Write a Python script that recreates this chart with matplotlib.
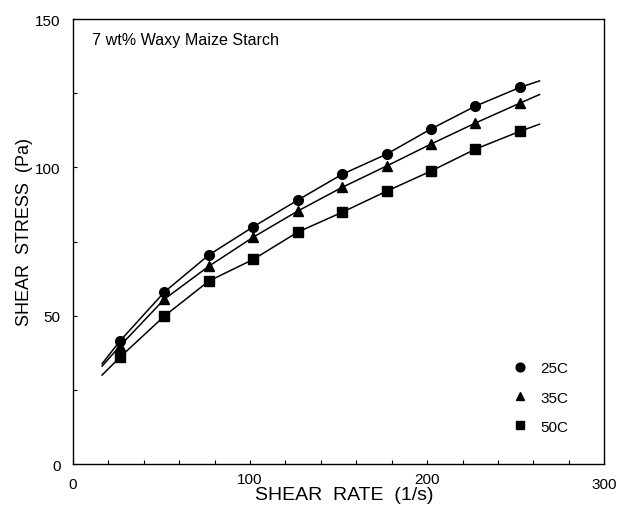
import matplotlib.pyplot as plt
import matplotlib.transforms as mtransforms
import numpy as np

plt.rcParams['font.family'] = ['Liberation Sans', 'DejaVu Sans']

# datos
rate = [26.5, 51.6, 76.7, 101.8, 126.9, 152.0, 177.1, 202.2, 227.3, 252.4]
s25 = [41.5, 58.0, 70.5, 80.0, 89.0, 97.7, 104.5, 113.0, 120.7, 127.0]
s35 = [39.8, 55.6, 66.7, 76.5, 85.3, 93.3, 100.5, 107.9, 115.0, 121.7]
s50 = [36.0, 49.9, 61.7, 69.0, 78.2, 84.9, 92.0, 98.8, 106.2, 112.2]

# extremos de las curvas ajustadas
fit_x = [16.4, 263.5]
fit25 = [33.8, 129.2]
fit35 = [33.0, 124.6]
fit50 = [30.0, 114.6]

labels = ['25C', '35C', '50C']
markers = ['o', '^', 's']

fig = plt.figure(figsize=(6.19, 5.06), dpi=100)
ax = fig.add_axes([0.118, 0.081, 0.858, 0.879])

series = [s25, s35, s50]
fits = [fit25, fit35, fit50]
for s, f, m, lab in zip(series, fits, markers, labels):
    xs = [fit_x[0]] + rate + [fit_x[1]]
    ys = [f[0]] + s + [f[1]]
    ax.plot(xs, ys, '-', color='black', lw=1.1)
    ax.plot(rate, s, m, color='black', ms=7, label=lab)

ax.set_xlim(0, 300)
ax.set_ylim(0, 150)

xt = np.arange(0, 301, 20)
ax.set_xticks(xt)
ax.set_xticklabels([str(v) if v % 100 == 0 else '' for v in xt])
yt = np.arange(0, 151, 25)
ax.set_yticks(yt)
ax.set_yticklabels([str(v) if v % 50 == 0 else '' for v in yt])
ax.tick_params(direction='in', length=3, width=0.8, labelsize=11, pad=9)

# en el original las etiquetas 100 y 200 quedan algo mas arriba
up = mtransforms.ScaledTranslation(0, 5 / 100, fig.dpi_scale_trans)
for lbl in ax.get_xticklabels():
    if lbl.get_text() in ('100', '200'):
        lbl.set_transform(lbl.get_transform() + up)

for sp in ax.spines.values():
    sp.set_linewidth(1.0)

ax.text(0.036, 0.972, '7 wt% Waxy Maize Starch', transform=ax.transAxes,
        fontsize=11.6, va='top', ha='left')

fig.text(344 / 619, 1 - 496 / 506, 'SHEAR  RATE  (1/s)', fontsize=14,
         ha='center', va='center')
fig.text(25 / 619, 1 - 232 / 506, 'SHEAR  STRESS  (Pa)', fontsize=13,
         ha='center', va='center', rotation=90)

ax.legend(loc='lower right', frameon=False, fontsize=11, handletextpad=0.8,
          labelspacing=1.0, handlelength=1.0, bbox_to_anchor=(0.958, 0.037),
          numpoints=1, markerscale=0.9)

fig.savefig('out.png', dpi=100)
